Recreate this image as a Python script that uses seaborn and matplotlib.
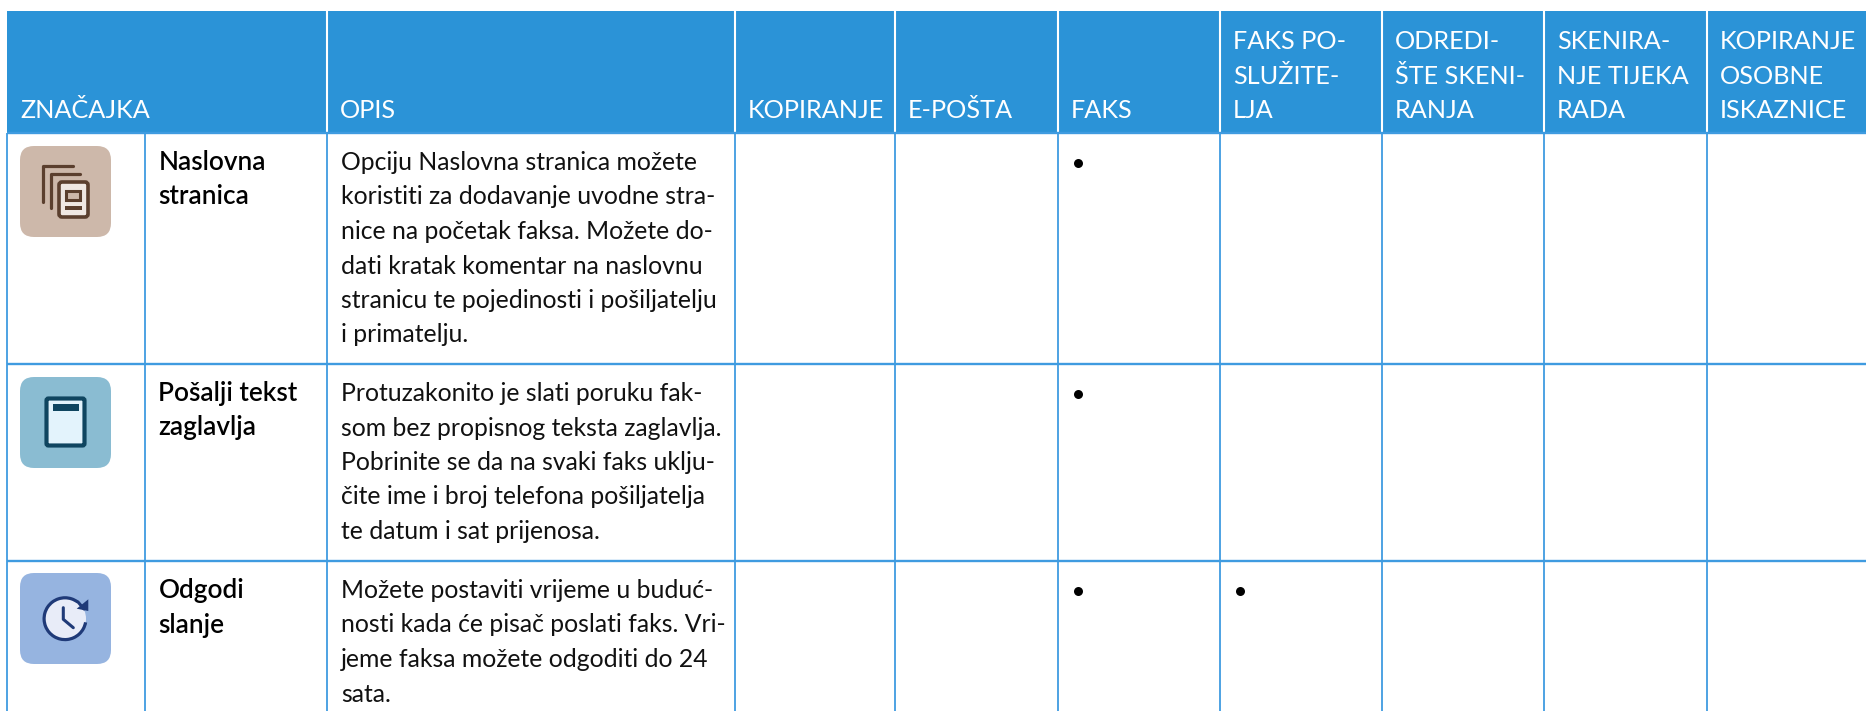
import numpy as np
import pandas as pd
import matplotlib
matplotlib.use('Agg')
import matplotlib.pyplot as plt
from matplotlib.patches import FancyBboxPatch, Rectangle, Circle, Wedge, Polygon
import seaborn as sns

sns.set_theme(style='white')
plt.rcParams['font.family'] = ['Lato', 'DejaVu Sans']

# table content
col_labels = [['ZNAČAJKA'], ['OPIS'], ['KOPIRANJE'], ['E-POŠTA'], ['FAKS'],
              ['FAKS PO-', 'SLUŽITE-', 'LJA'],
              ['ODREDI-', 'ŠTE SKENI-', 'RANJA'],
              ['SKENIRA-', 'NJE TIJEKA', 'RADA'],
              ['KOPIRANJE', 'OSOBNE', 'ISKAZNICE']]
mode_cols = ['KOPIRANJE', 'E-POŠTA', 'FAKS', 'FAKS POSLUŽITELJA', 'ODREDIŠTE SKENIRANJA',
             'SKENIRANJE TIJEKA RADA', 'KOPIRANJE OSOBNE ISKAZNICE']
features = [['Naslovna', 'stranica'], ['Pošalji tekst', 'zaglavlja'], ['Odgodi', 'slanje']]
descriptions = [
    ['Opciju Naslovna stranica možete', 'koristiti za dodavanje uvodne stra-',
     'nice na početak faksa. Možete do-', 'dati kratak komentar na naslovnu',
     'stranicu te pojedinosti i pošiljatelju', 'i primatelju.'],
    ['Protuzakonito je slati poruku fak-', 'som bez propisnog teksta zaglavlja.',
     'Pobrinite se da na svaki faks uklju-', 'čite ime i broj telefona pošiljatelja',
     'te datum i sat prijenosa.'],
    ['Možete postaviti vrijeme u buduć-', 'nosti kada će pisač poslati faks. Vri-',
     'jeme faksa možete odgoditi do 24', 'sata.'],
]
mark_rows = [0, 1, 2, 2]
mark_cols = ['FAKS', 'FAKS', 'FAKS', 'FAKS POSLUŽITELJA']

# layout in pixels
W, H = 1866, 711
edges = [7, 145, 327, 735, 895, 1058, 1220, 1382, 1544, 1707, 1866]
head_top, head_bot = 11, 133
row_lines = [133, 364, 561, 711]
line_h = 34.5
blue = '#2b93d7'
line_blue = '#3f9be0'

fig = plt.figure(figsize=(W / 100, H / 100), dpi=100)
ax = fig.add_axes([0, 0, 1, 1])
ax.set_xlim(0, W)
ax.set_ylim(H, 0)
ax.axis('off')

# header
ax.add_patch(Rectangle((edges[0], head_top), W - edges[0], head_bot - head_top, fc=blue, ec='none', zorder=1))
for x in edges[2:-1]:
    ax.plot([x, x], [head_top, head_bot], color='white', lw=1.5, zorder=2, solid_capstyle='butt')
head_x = [edges[0]] + edges[2:-1]
for x0, lab in zip(head_x, col_labels):
    for i, t in enumerate(reversed(lab)):
        ax.text(x0 + 13, 118 - i * 34.5, t, color='white', fontsize=18.2,
                ha='left', va='baseline', zorder=3)

# grid
for x in edges[:-1]:
    ax.plot([x, x], [head_bot, H], color=line_blue, lw=1.3, zorder=2, solid_capstyle='butt')
for y in row_lines[:-1]:
    ax.plot([edges[0], W], [y, y], color=line_blue, lw=1.7, zorder=2, solid_capstyle='butt')

# rows text
for r, (feat, desc) in enumerate(zip(features, descriptions)):
    y0 = row_lines[r] + 37
    for i, t in enumerate(feat):
        ax.text(edges[1] + 13.5, y0 + i * line_h, t, color='black', fontsize=18.8, fontweight='semibold',
                ha='left', va='baseline', zorder=3)
    for i, t in enumerate(desc):
        ax.text(edges[2] + 14, y0 + i * line_h, t, color='#111111', fontsize=17.8,
                ha='left', va='baseline', zorder=3)

# icons
def tile(y, color):
    ax.add_patch(FancyBboxPatch((20, y), 91, 91, boxstyle='round,pad=0,rounding_size=14',
                                fc=color, ec='none', zorder=3))

tan = '#cdb8aa'
tile(146, tan)
brown = '#5b3f2e'
ax.plot([43, 43, 73], [202, 166, 166], color=brown, lw=2.3, zorder=4, solid_joinstyle='round')
ax.plot([51, 51, 80], [208, 174, 174], color=brown, lw=2.3, zorder=4, solid_joinstyle='round')
ax.add_patch(FancyBboxPatch((59, 182), 29, 35, boxstyle='round,pad=0,rounding_size=3',
                            fc='#efe7e2', ec=brown, lw=2.6, zorder=5))
ax.add_patch(Rectangle((66, 191), 14, 9, fc=tan, ec=brown, lw=2.2, zorder=6))
ax.add_patch(Rectangle((65, 206), 17, 3.5, fc=brown, ec='none', zorder=6))

tile(377, '#8abcd2')
navy = '#0f4560'
ax.add_patch(FancyBboxPatch((46.5, 398.5), 38, 47, boxstyle='round,pad=0,rounding_size=2',
                            fc='#e3f3fc', ec=navy, lw=3, zorder=5))
ax.add_patch(Rectangle((52.5, 404), 26, 7, fc=navy, ec='none', zorder=6))

tile(573, '#96b4e0')
dark = '#1f3a78'
ax.add_patch(Circle((65, 618.7), 21, fc='#e8ecf8', ec='none', zorder=5))
ax.add_patch(Wedge((65, 618.7), 22.5, 10, 307, width=3.2, fc=dark, ec='none', zorder=6))
ax.plot([63.3, 63.3, 73.3], [607.7, 619.3, 627.7], color=dark, lw=2.2, zorder=6)
ax.plot([78, 84], [602, 609], color=dark, lw=2.2, zorder=6)
ax.add_patch(Polygon([[88.3, 599.3], [88.3, 611], [76.7, 608.7]], fc=dark, ec='none', zorder=6))

# availability dots
marks = pd.DataFrame({'row': mark_rows, 'mode': mark_cols})
marks['x'] = [edges[3 + mode_cols.index(m)] + 20 for m in marks['mode']]
marks['y'] = [row_lines[r] + 30 for r in marks['row']]
sns.scatterplot(data=marks, x='x', y='y', ax=ax, color='black', s=42, linewidth=0, legend=False, zorder=7)
ax.set_xlim(0, W)
ax.set_ylim(H, 0)
ax.axis('off')

fig.savefig('out.png', dpi=100)
